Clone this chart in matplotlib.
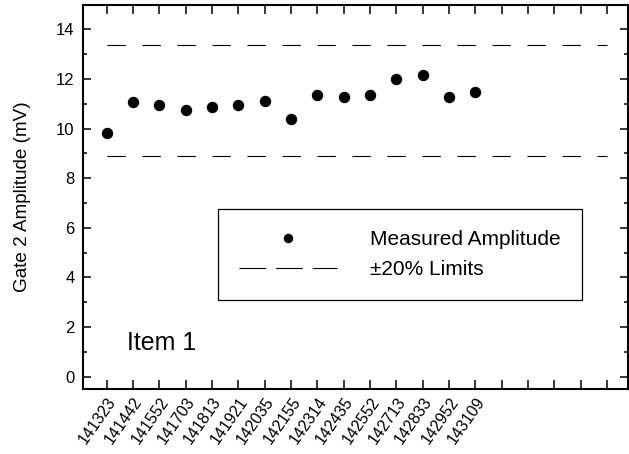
import numpy as np
import matplotlib
matplotlib.use('Agg')
import matplotlib.pyplot as plt
from matplotlib.lines import Line2D

plt.rcParams['font.family'] = ['Liberation Sans', 'DejaVu Sans']
plt.rcParams['lines.scale_dashes'] = False

# data
run_ids = ['141323', '141442', '141552', '141703', '141813', '141921', '142035',
           '142155', '142314', '142435', '142552', '142713', '142833', '142952', '143109']
amplitude = [9.80, 11.07, 10.95, 10.73, 10.87, 10.95, 11.12, 10.39,
             11.36, 11.28, 11.37, 12.00, 12.15, 11.28, 11.49]
upper_limit = 13.35
lower_limit = 8.90
n_slots = 20  # tick slots along x (only the first 15 carry labels)

fig = plt.figure(figsize=(6.29, 4.54), dpi=100)
ax = fig.add_axes([83 / 629, 1 - 389 / 454, 545 / 629, 384.5 / 454])

x = np.arange(len(run_ids))
ax.plot(x, amplitude, 'o', color='black', markersize=7.2, linestyle='none')

# +/-20% limit lines
xs = [0, n_slots - 1]
dash = (0, (13.2, 12.0))
ax.plot(xs, [upper_limit, upper_limit], color='black', lw=0.8, linestyle=dash)
ax.plot(xs, [lower_limit, lower_limit], color='black', lw=0.8, linestyle=dash)

ax.set_xlim(-0.9, 19.8)
ax.set_ylim(-0.5, 15)

ticks = np.arange(n_slots)
ax.set_xticks(ticks)
ax.set_xticklabels(run_ids + [''] * (n_slots - len(run_ids)),
                   rotation=55, ha='right', va='top', rotation_mode='anchor',
                   fontsize=11.5)
ax.set_yticks(np.arange(0, 15, 2))
ax.set_yticks(np.arange(1, 15, 2), minor=True)
ax.tick_params(axis='both', which='major', direction='in', length=6, width=1.1,
               top=True, right=True, labelsize=12)
ax.tick_params(axis='x', which='major', length=6.5, labelsize=11.5, pad=4)
ax.tick_params(axis='y', which='major', pad=6)
ax.tick_params(axis='y', which='minor', direction='in', length=3, width=1.1,
               right=True)
for s in ax.spines.values():
    s.set_linewidth(1.5)

ax.set_ylabel('Gate 2 Amplitude (mV)', fontsize=13.6, labelpad=18)

ax.text(0.0807, 0.1014, 'Item 1', transform=ax.transAxes, fontsize=18,
        va='baseline', ha='left')

handles = [
    Line2D([], [], marker='o', color='black', markersize=5.8, linestyle='none'),
    Line2D([], [], color='black', lw=0.8, linestyle=(0, (19.2, 7.2))),
]
leg = ax.legend(handles, ['Measured Amplitude', '\u00b120% Limits'],
                loc='upper left', bbox_to_anchor=(0.2477, 0.468),
                borderaxespad=0, fontsize=15, frameon=True, fancybox=False,
                framealpha=1, edgecolor='black', borderpad=1.0,
                handlelength=4.7, handletextpad=1.6, labelspacing=0.55)
leg.get_frame().set_linewidth(0.9)

fig.savefig('out.png', dpi=100)
